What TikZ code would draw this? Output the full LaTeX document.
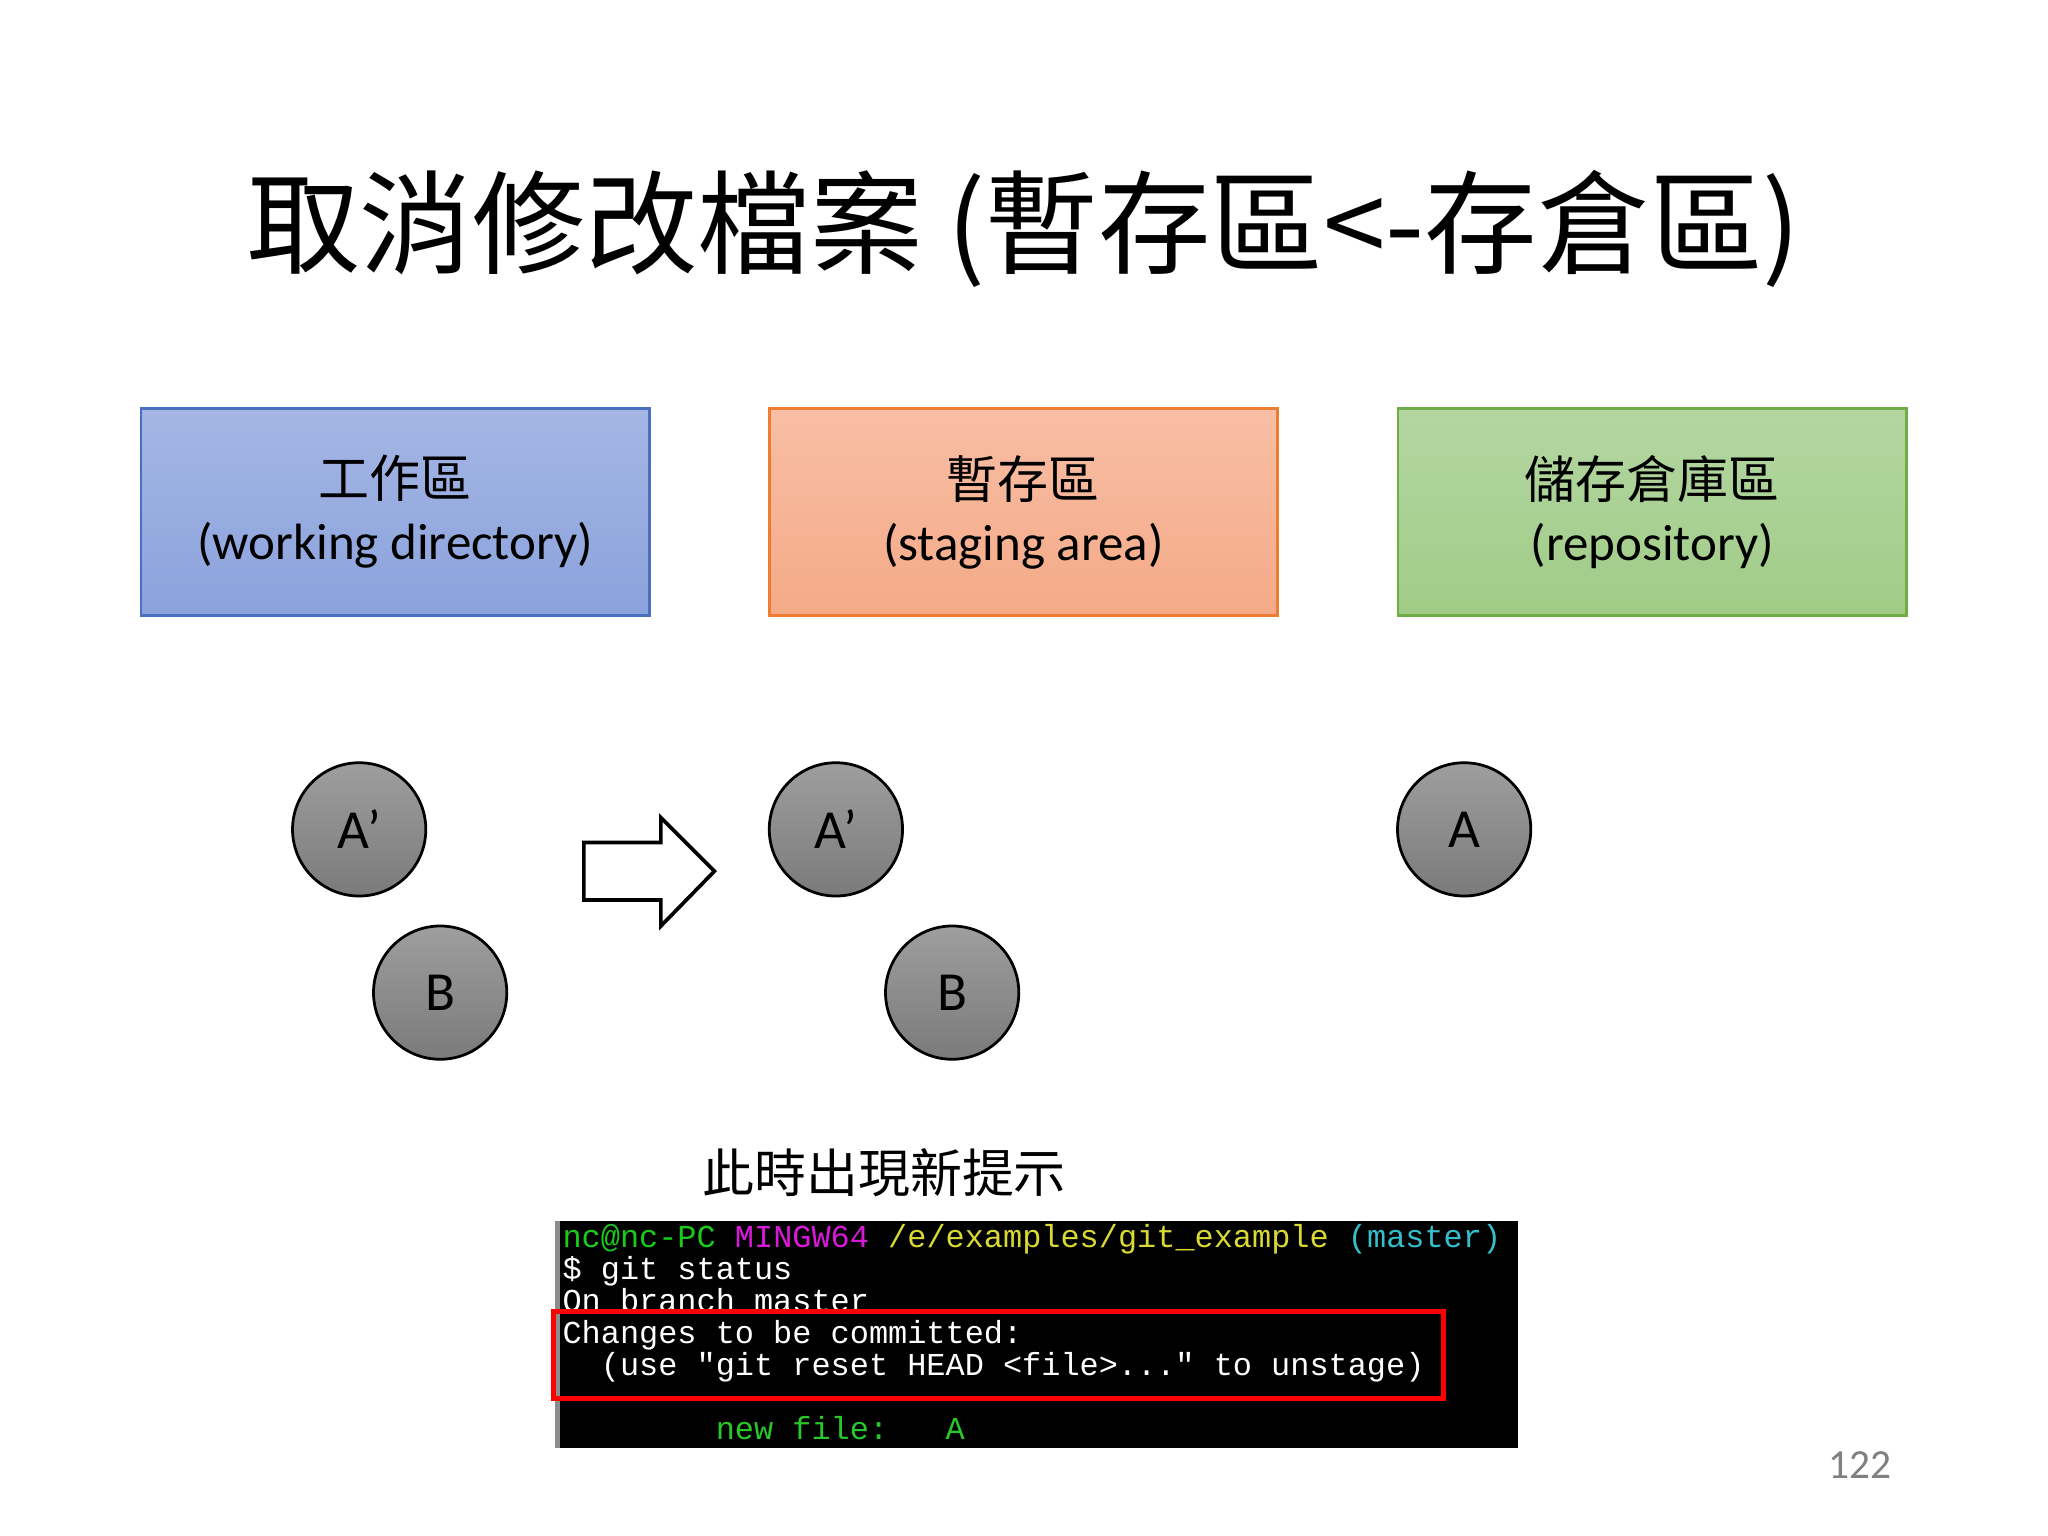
\documentclass[tikz,border=0pt]{standalone}
\usepackage{fontspec}
\setmainfont{Carlito}
\newfontfamily\cjk{Noto Sans CJK TC}
\newfontfamily\term{Liberation Mono}
\begin{document}
\begin{tikzpicture}[x=0.01cm,y=-0.01cm,
  areabox/.style={minimum width=3.89cm,minimum height=1.58cm,inner sep=0pt,align=center,font=\fontsize{11.1}{13.5}\selectfont,line width=0.6pt},
  fileball/.style={circle,draw=black,line width=0.6pt,minimum size=1.02cm,inner sep=0pt,top color=black!38,bottom color=black!52,font=\fontsize{12}{15}\selectfont},
  tline/.style={anchor=base west,inner sep=0pt,font=\term\fontsize{6.95}{8}\selectfont,text=white}]
\useasboundingbox (0,0) rectangle (1568,1176);
\fill[white] (0,0) rectangle (1568,1176);
\node (title) at (784,175) {\cjk\fontsize{24.5}{28}\selectfont 取消修改檔案 (暫存區<-存倉區)};
\node[areabox,draw={rgb,255:red,74;green,111;blue,192},top color={rgb,255:red,165;green,182;blue,228},bottom color={rgb,255:red,138;green,162;blue,220}] (wd) at (302.5,392) {{\cjk 工作區}\\(working directory)};
\node[areabox,draw={rgb,255:red,237;green,125;blue,49},top color={rgb,255:red,248;green,190;blue,165},bottom color={rgb,255:red,244;green,170;blue,135}] (sa) at (783.5,392) {{\cjk 暫存區}\\(staging area)};
\node[areabox,draw={rgb,255:red,112;green,173;blue,71},top color={rgb,255:red,180;green,214;blue,162},bottom color={rgb,255:red,160;green,204;blue,135}] (rp) at (1265,392) {{\cjk 儲存倉庫區}\\(repository)};
\node[fileball] (a1) at (275,635) {A’};
\node[fileball] (b1) at (337,760) {B};
\node[fileball] (a2) at (640,635) {A’};
\node[fileball] (b2) at (729,760) {B};
\node[fileball] (a3) at (1121,635) {A};
\draw[line width=0.8pt,fill=white] (447,645) -- (506,645) -- (506,626) -- (547,667) -- (506,709) -- (506,689) -- (447,689) -- cycle;
\node (hint) at (677,898) {\cjk\fontsize{11.3}{13}\selectfont 此時出現新提示};
\fill[black] (425,935) rectangle (1162,1109);
\fill[black!45] (425,935) rectangle (429,1109);
\node[tline] (l1) at (430,955) {\textcolor[rgb]{0.1,0.8,0.1}{nc@nc-PC} \textcolor[rgb]{0.85,0.1,0.85}{MINGW64} \textcolor[rgb]{0.85,0.85,0.2}{/e/examples/git\_example} \textcolor[rgb]{0.2,0.75,0.8}{(master)}};
\node[tline] (l2) at (430,980) {\$ git status};
\node[tline] (l3) at (430,1004) {On branch master};
\node[tline] (l4) at (430,1029) {Changes to be committed:};
\node[tline] (l5) at (430,1053) {\ \ (use "git reset HEAD <file>..." to unstage)};
\node[tline,text={rgb,255:red,40;green,200;blue,40}] (l6) at (430,1102) {\ \ \ \ \ \ \ \ new file:\ \ \ A};
\draw[red,line width=1.1pt] (424,1004) rectangle (1105,1071);
\node[text=black!50,font=\fontsize{9}{11}\selectfont] (pg) at (1424,1122) {122};
\end{tikzpicture}
\end{document}
